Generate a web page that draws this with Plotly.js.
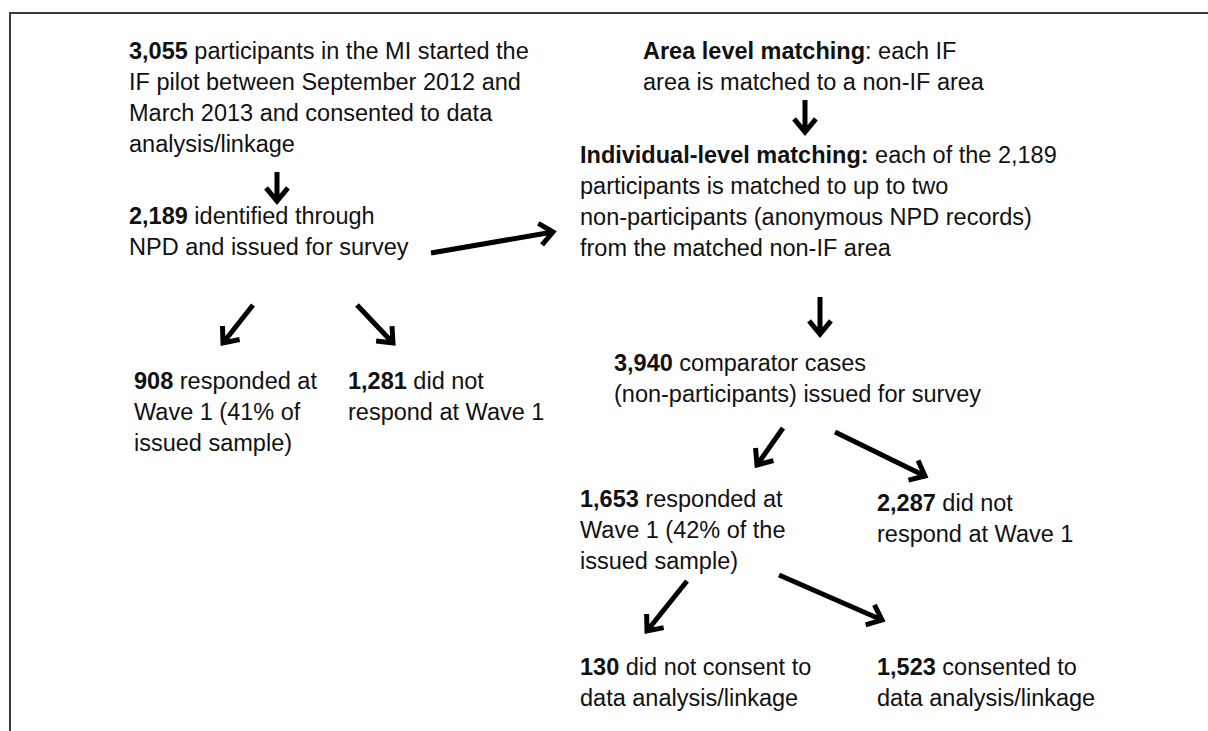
<!DOCTYPE html>
<html>
<head>
<meta charset="utf-8">
<script src="https://cdn.plot.ly/plotly-3.0.1.min.js"></script>
<style>html,body{margin:0;padding:0;background:#fff;}#chart{width:1208px;height:731px;}</style>
</head>
<body>
<div id="chart"></div>
<script>
// Flowchart text (each entry = one line of a box)
const startedPilot = ["<b>3,055</b> participants in the MI started the", "IF pilot between September 2012 and", "March 2013 and consented to data", "analysis/linkage"];
const identified = ["<b>2,189</b> identified through", "NPD and issued for survey"];
const respondedIF = ["<b>908</b> responded at", "Wave 1 (41% of", "issued sample)"];
const notRespondedIF = ["<b>1,281</b> did not", "respond at Wave 1"];
const areaMatching = ["<b>Area level matching</b>: each IF", "area is matched to a non-IF area"];
const individualMatching = ["<b>Individual-level matching:</b> each of the 2,189", "participants is matched to up to two", "non-participants (anonymous NPD records)", "from the matched non-IF area"];
const comparatorIssued = ["<b>3,940</b> comparator cases", "(non-participants) issued for survey"];
const respondedComp = ["<b>1,653</b> responded at", "Wave 1 (42% of the", "issued sample)"];
const notRespondedComp = ["<b>2,287</b> did not", "respond at Wave 1"];
const notConsented = ["<b>130</b> did not consent to", "data analysis/linkage"];
const consented = ["<b>1,523</b> consented to", "data analysis/linkage"];

const FONT = {family: "Liberation Sans, Arial, sans-serif", size: 23.5, color: "#111"};
const LINE = 31;

// layout placement: [lines, left x, first-line centre y]
const boxes = [
  [startedPilot, 127, 51],
  [identified, 127, 216],
  [respondedIF, 132, 381],
  [notRespondedIF, 346, 381],
  [areaMatching, 641, 51],
  [individualMatching, 578, 155],
  [comparatorIssued, 612, 363],
  [respondedComp, 578, 499],
  [notRespondedComp, 875, 503],
  [notConsented, 578, 667],
  [consented, 875, 667]
];

const annotations = [];
boxes.forEach(([lines, x, y0]) => {
  lines.forEach((t, i) => {
    annotations.push({x: x, y: y0 + i * LINE, xref: "x", yref: "y", text: t, showarrow: false,
      xanchor: "left", yanchor: "middle", align: "left", font: FONT});
  });
});

// arrows: tail -> head
const arrows = [
  [277, 172, 277, 201],
  [431, 253, 553, 232],
  [253, 305, 223, 343],
  [357, 305, 393, 343],
  [805, 100, 805, 132],
  [820, 297, 820, 334],
  [783, 428, 757, 465],
  [835, 432, 925, 476],
  [687, 581, 647, 631],
  [779, 575, 882, 620]
];

const shapes = [
  {type: "line", xref: "x", yref: "y", x0: 9, y0: 13, x1: 1208, y1: 13, line: {color: "#3a3a3a", width: 2}},
  {type: "line", xref: "x", yref: "y", x0: 10, y0: 12, x1: 10, y1: 731, line: {color: "#3a3a3a", width: 2}}
];
const HL = 17, ANG = 40 * Math.PI / 180;
arrows.forEach(([x0, y0, x1, y1]) => {
  const a = Math.atan2(y1 - y0, x1 - x0);
  const p1x = x1 - HL * Math.cos(a - ANG), p1y = y1 - HL * Math.sin(a - ANG);
  const p2x = x1 - HL * Math.cos(a + ANG), p2y = y1 - HL * Math.sin(a + ANG);
  shapes.push({type: "path", xref: "x", yref: "y",
    path: `M${x0},${y0} L${x1},${y1} M${p1x},${p1y} L${x1},${y1} L${p2x},${p2y}`,
    line: {color: "#000", width: 5}});
});

const layout = {
  width: 1208, height: 731,
  margin: {l: 0, r: 0, t: 0, b: 0},
  paper_bgcolor: "#fff", plot_bgcolor: "#fff",
  xaxis: {range: [0, 1208], visible: false, fixedrange: true},
  yaxis: {range: [731, 0], visible: false, fixedrange: true},
  showlegend: false,
  annotations: annotations,
  shapes: shapes
};

Plotly.newPlot("chart", [{x: [], y: [], type: "scatter", mode: "markers", hoverinfo: "skip"}], layout, {staticPlot: true});
</script>
</body>
</html>
